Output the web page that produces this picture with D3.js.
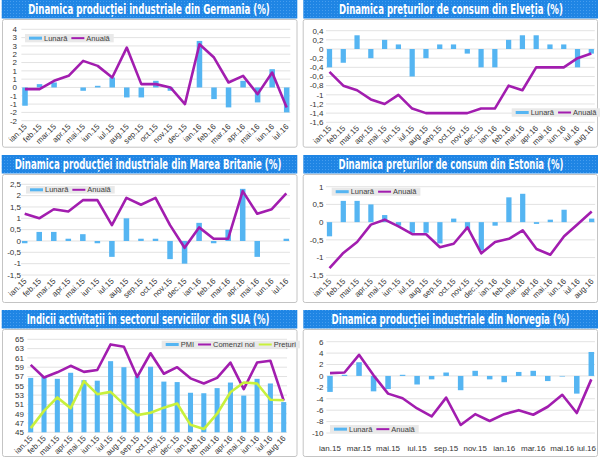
<!DOCTYPE html>
<html>
<head>
<meta charset="utf-8">
<script src="https://cdn.jsdelivr.net/npm/d3@7"></script>
<style>
  html, body { margin: 0; padding: 0; background: #fff; }
  svg { display: block; }
  .tick-label { font-family: "Liberation Sans", Arial, sans-serif; font-size: 8px; fill: #333; }
  .legend-label { font-family: "Liberation Sans", Arial, sans-serif; font-size: 7.5px; fill: #404040; }
  .title { font-family: "Liberation Sans Narrow", "DejaVu Sans Condensed", sans-serif; font-weight: bold; font-size: 14px; fill: #fff; }
</style>
</head>
<body>
<svg id="chart" width="600" height="458"></svg>
<script>
// luni
const luni = ['ian.15', 'feb.15', 'mar.15', 'apr.15', 'mai.15', 'iun.15', 'iul.15', 'aug.15',
  'sep.15', 'oct.15', 'nov.15', 'dec.15', 'ian.16', 'feb.16', 'mar.16', 'apr.16', 'mai.16',
  'iun.16', 'iul.16', 'aug.16'];
const luni19 = luni.slice(0, 19);

// Germania - productie industriala
const germaniaLunara = [-1.1, 0.2, 0.3, 0.0, -0.2, 0.1, 0.6, -0.6, -0.6, 0.4, -0.2, 0.0, 2.8, -0.7, -1.2, 0.4, -0.9, 1.1, -1.5];
const germaniaAnuala = [-0.1, -0.1, 0.4, 0.7, 1.6, 1.3, 0.6, 2.4, 0.2, 0.2, 0.0, -1.0, 2.6, 1.8, 0.3, 0.7, -0.4, 0.9, -1.2];

// Elvetia - preturi de consum
const elvetiaLunara = [-0.4, -0.3, 0.3, -0.2, 0.2, 0.1, -0.6, -0.2, 0.1, 0.1, -0.1, -0.4, -0.4, 0.2, 0.3, 0.3, 0.1, 0.1, -0.4, -0.1];
const elvetiaAnuala = [-0.5, -0.8, -0.9, -1.1, -1.2, -1.0, -1.3, -1.4, -1.4, -1.4, -1.4, -1.3, -1.3, -0.8, -0.9, -0.4, -0.4, -0.4, -0.2, -0.1];

// Marea Britanie - productie industriala
const britaniaLunara = [-0.1, 0.4, 0.4, 0.1, 0.3, -0.1, -0.7, 1.0, 0.1, 0.1, -0.8, -1.0, 0.8, -0.1, 0.5, 2.3, -0.7, 0.0, 0.1];
const britaniaAnuala = [1.2, 1.0, 1.4, 1.3, 1.8, 1.8, 0.7, 1.9, 1.6, 1.9, 0.7, -0.3, 0.6, 0.1, 0.1, 2.2, 1.2, 1.4, 2.1];

// Estonia - preturi de consum
const estoniaLunara = [-0.4, 0.6, 0.6, 0.5, 0.2, -0.1, -0.3, -0.3, -0.6, 0.1, -0.2, -0.8, -0.1, 0.7, 0.8, -0.05, 0.07, 0.35, 0.0, 0.1];
const estoniaAnuala = [-1.3, -0.87, -0.56, -0.07, 0.07, -0.12, -0.34, -0.34, -0.71, -0.61, -0.15, -0.88, -0.56, -0.47, -0.23, -0.76, -0.92, -0.4, -0.05, 0.3];

// SUA - sectorul serviciilor
const suaPmi = [56.7, 56.9, 56.5, 57.8, 56.2, 56.1, 60.3, 59.0, 57.1, 59.1, 55.9, 55.8, 53.5, 53.4, 54.5, 55.7, 52.9, 56.5, 55.5, 51.5];
const suaComenzi = [59.5, 56.8, 57.9, 59.3, 58.0, 58.4, 63.9, 63.4, 56.9, 62.0, 57.6, 59.0, 56.6, 55.5, 56.7, 60.0, 54.3, 60.0, 60.4, 51.8];
const suaPreturi = [45.9, 49.6, 52.5, 50.2, 56.0, 53.2, 53.7, 51.0, 48.7, 49.2, 50.3, 51.2, 46.6, 45.7, 49.0, 53.6, 55.7, 55.5, 52.0, 51.9];

// Norvegia - productie industriala
const norvegiaLunara = [-2.8, 0.2, 2.4, -2.7, -2.3, 0.2, -1.5, -0.6, 0.6, -2.5, 0.9, -0.6, -1.1, 0.7, 0.9, -0.9, -0.1, -3.1, 4.2];
const norvegiaAnuala = [0.5, 0.6, 3.7, 0.1, -3.1, -3.9, -5.7, -7.1, -3.8, -8.6, -6.7, -7.9, -6.7, -6.0, -6.8, -5.4, -3.3, -6.5, -0.6];

const BLUE = '#55b5f2', PURPLE = '#a21daf', GREEN = '#c8f03c';

const ro = d3.formatLocale({ decimal: ',', thousands: '.', grouping: [3], currency: ['', ''], minus: '-' });
const fmtRo = ro.format('~f');
// Excel "0" format rounds half away from zero
const fmtRound = v => String(Math.sign(v) * Math.round(Math.abs(v)) || 0);

const panels = [
  {
    title: 'Dinamica producției industriale din Germania (%)',
    titleBox: [1.7, 0, 295.6, 18.5], titleX: 149, titleW: 242,
    frame: [2, 19, 294.5, 127.7],
    cats: luni19, xCenters: [25, 286.7],
    yDomain: [-2, 3.5], yRange: [120.7, 29.3], step: 0.5, fmt: fmtRound, labelX: 17,
    bars: { name: 'Lunară', values: germaniaLunara, base: 0 },
    lines: [{ name: 'Anuală', values: germaniaAnuala, color: PURPLE }],
    legend: { x: 25, y: 34, h: 8.3 }, rotated: true
  },
  {
    title: 'Dinamica prețurilor de consum din Elveția (%)',
    titleBox: [303.3, 0, 294.7, 18.5], titleX: 451, titleW: 224,
    frame: [302.7, 19, 294.3, 127.7],
    cats: luni, xCenters: [329.5, 591.3],
    yDomain: [-1.6, 0.4], yRange: [122.3, 30.7], step: 0.2, fmt: fmtRo, labelX: 323.5,
    bars: { name: 'Lunară', values: elvetiaLunara, base: 0 },
    lines: [{ name: 'Anuală', values: elvetiaAnuala, color: PURPLE }],
    legend: { x: 511.7, y: 108.3, h: 8.4 }, rotated: true
  },
  {
    title: 'Dinamica producției industriale din Marea Britanie (%)',
    titleBox: [1.7, 155, 295.6, 18.5], titleX: 148, titleW: 267,
    frame: [2, 174, 294.5, 128],
    cats: luni19, xCenters: [24.7, 286.3],
    yDomain: [-1.5, 2.5], yRange: [275, 184.3], step: 0.5, fmt: fmtRo, labelX: 21,
    bars: { name: 'Lunară', values: britaniaLunara, base: 0 },
    lines: [{ name: 'Anuală', values: britaniaAnuala, color: PURPLE }],
    legend: { x: 26, y: 186, h: 7.6 }, rotated: true
  },
  {
    title: 'Dinamica prețurilor de consum din Estonia (%)',
    titleBox: [303.3, 155, 294.7, 18.5], titleX: 451, titleW: 225,
    frame: [302.7, 174, 294.3, 128],
    cats: luni, xCenters: [329.5, 591.7],
    yDomain: [-1.5, 1], yRange: [275.3, 186.7], step: 0.5, fmt: fmtRo, labelX: 323.5,
    bars: { name: 'Lunară', values: estoniaLunara, base: 0 },
    lines: [{ name: 'Anuală', values: estoniaAnuala, color: PURPLE }],
    legend: { x: 331.7, y: 187.7, h: 8 }, rotated: true
  },
  {
    title: 'Indicii activitații în sectorul serviciilor din SUA (%)',
    titleBox: [1.7, 310, 295.6, 18.5], titleX: 148, titleW: 243,
    frame: [2, 329, 294.5, 127],
    cats: luni, xCenters: [30.7, 283.7],
    yDomain: [45, 65], yRange: [432.3, 339.3], step: 2, fmt: fmtRo, labelX: 24,
    bars: { name: 'PMI', values: suaPmi, base: 45 },
    lines: [
      { name: 'Comenzi noi', values: suaComenzi, color: PURPLE },
      { name: 'Prețuri', values: suaPreturi, color: GREEN }
    ],
    legend: { x: 161.7, y: 340.7, h: 7.6 }, rotated: true
  },
  {
    title: 'Dinamica producției industriale din Norvegia (%)',
    titleBox: [303.3, 310, 294.7, 18.5], titleX: 450.5, titleW: 238,
    frame: [302.7, 329, 294.3, 127],
    cats: luni19, xCenters: [330, 591.3],
    yDomain: [-10, 6], yRange: [433, 341.7], step: 2, fmt: fmtRo, labelX: 323.5,
    bars: { name: 'Lunară', values: norvegiaLunara, base: 0 },
    lines: [{ name: 'Anuală', values: norvegiaAnuala, color: PURPLE }],
    legend: { x: 330, y: 425, h: 8.3 }, rotated: false, labelY: 451
  }
];

const svg = d3.select('#chart');
const defs = svg.append('defs');
const pat = defs.append('pattern')
  .attr('id', 'dots')
  .attr('width', 3).attr('height', 3)
  .attr('patternUnits', 'userSpaceOnUse');
pat.append('rect').attr('width', 3).attr('height', 3).attr('fill', '#1f85e4');
pat.append('rect').attr('x', 1).attr('y', 1).attr('width', 1).attr('height', 1).attr('fill', '#469dee');

panels.forEach(drawPanel);

function drawPanel(p) {
  const g = svg.append('g');
  const [fx, fy, fw, fh] = p.frame;
  g.append('rect')
    .attr('x', fx + 0.5).attr('y', fy + 0.5)
    .attr('width', fw).attr('height', fh)
    .attr('rx', 2)
    .attr('fill', '#fff')
    .attr('stroke', '#c4c4c4');

  const [tx, ty, tw, th] = p.titleBox;
  g.append('rect')
    .attr('x', tx).attr('y', ty)
    .attr('width', tw).attr('height', th)
    .attr('fill', 'url(#dots)');
  // title squeezed horizontally to the condensed width of the original
  const title = g.append('text')
    .attr('class', 'title')
    .attr('text-anchor', 'middle')
    .text(p.title);
  const natW = title.node().getComputedTextLength();
  title.attr('transform', `translate(${p.titleX},${ty + 14}) scale(${p.titleW / natW},1)`);

  const n = p.cats.length;
  const [c0, c1] = p.xCenters;
  const step = (c1 - c0) / (n - 1);
  const x = d3.scaleBand()
    .domain(p.cats)
    .range([c0 - step / 2, c1 + step / 2])
    .paddingInner(0.62)
    .paddingOuter(0.31);
  const cx = c => x(c) + x.bandwidth() / 2;
  const y = d3.scaleLinear().domain(p.yDomain).range(p.yRange);

  const nTicks = Math.round((p.yDomain[1] - p.yDomain[0]) / p.step);
  const ticks = d3.range(nTicks + 1).map(i => +(p.yDomain[0] + i * p.step).toFixed(6));

  // grid
  g.append('g').selectAll('line')
    .data(ticks)
    .join('line')
    .attr('x1', c0 - step * 0.25).attr('x2', c1 + step * 0.25)
    .attr('y1', d => y(d)).attr('y2', d => y(d))
    .attr('stroke', '#dadada')
    .attr('stroke-width', 0.8);

  // y labels
  g.append('g').selectAll('text')
    .data(ticks)
    .join('text')
    .attr('class', 'tick-label')
    .attr('x', p.labelX)
    .attr('y', d => y(d))
    .attr('dy', '0.35em')
    .attr('text-anchor', 'end')
    .text(d => p.fmt(d));

  // bars
  const base = p.bars.base;
  g.append('g').selectAll('rect')
    .data(p.bars.values.map((v, i) => ({ c: p.cats[i], v })))
    .join('rect')
    .attr('x', d => x(d.c))
    .attr('width', x.bandwidth())
    .attr('y', d => Math.min(y(d.v), y(base)))
    .attr('height', d => Math.abs(y(d.v) - y(base)))
    .attr('fill', BLUE);

  // lines
  const line = d3.line()
    .x((d, i) => cx(p.cats[i]))
    .y(d => y(d));
  p.lines.forEach(s => {
    g.append('path')
      .datum(s.values)
      .attr('d', line)
      .attr('fill', 'none')
      .attr('stroke', s.color)
      .attr('stroke-width', 2.6)
      .attr('stroke-linejoin', 'round');
  });

  // x labels
  const yBottom = p.yRange[0];
  if (p.rotated) {
    g.append('g').selectAll('text')
      .data(p.cats)
      .join('text')
      .attr('class', 'tick-label')
      .attr('text-anchor', 'end')
      .attr('transform', d => `translate(${cx(d) + 2.5},${yBottom + 6.5}) rotate(-45)`)
      .text(d => d);
  } else {
    const right = fx + fw - 1;
    g.append('g').selectAll('text')
      .data(p.cats.filter((d, i) => i % 2 === 0))
      .join('text')
      .attr('class', 'tick-label')
      .attr('text-anchor', 'middle')
      .attr('x', d => cx(d))
      .attr('y', p.labelY)
      .text(d => d)
      .each(function (d) {
        const w = this.getComputedTextLength();
        if (cx(d) + w / 2 > right) d3.select(this).attr('x', right - w / 2);
      });
  }

  // legend
  const items = [{ name: p.bars.name, color: BLUE, type: 'bar' }]
    .concat(p.lines.map(s => ({ name: s.name, color: s.color, type: 'line' })));
  const lg = p.legend;
  const lgG = g.append('g');
  const box = lgG.append('rect')
    .attr('x', lg.x).attr('y', lg.y)
    .attr('height', lg.h)
    .attr('fill', '#e9e9e9');
  let lx = lg.x + 4;
  const midY = lg.y + lg.h / 2;
  items.forEach(it => {
    if (it.type === 'bar') {
      lgG.append('rect')
        .attr('x', lx).attr('y', midY - 1.5)
        .attr('width', 13).attr('height', 3)
        .attr('fill', it.color);
    } else {
      lgG.append('line')
        .attr('x1', lx).attr('x2', lx + 13)
        .attr('y1', midY).attr('y2', midY)
        .attr('stroke', it.color)
        .attr('stroke-width', 2);
    }
    lx += 15;
    const t = lgG.append('text')
      .attr('class', 'legend-label')
      .attr('x', lx).attr('y', midY)
      .attr('dy', '0.35em')
      .text(it.name);
    lx += t.node().getComputedTextLength() + 4;
  });
  box.attr('width', lx - lg.x);
}
</script>
</body>
</html>
